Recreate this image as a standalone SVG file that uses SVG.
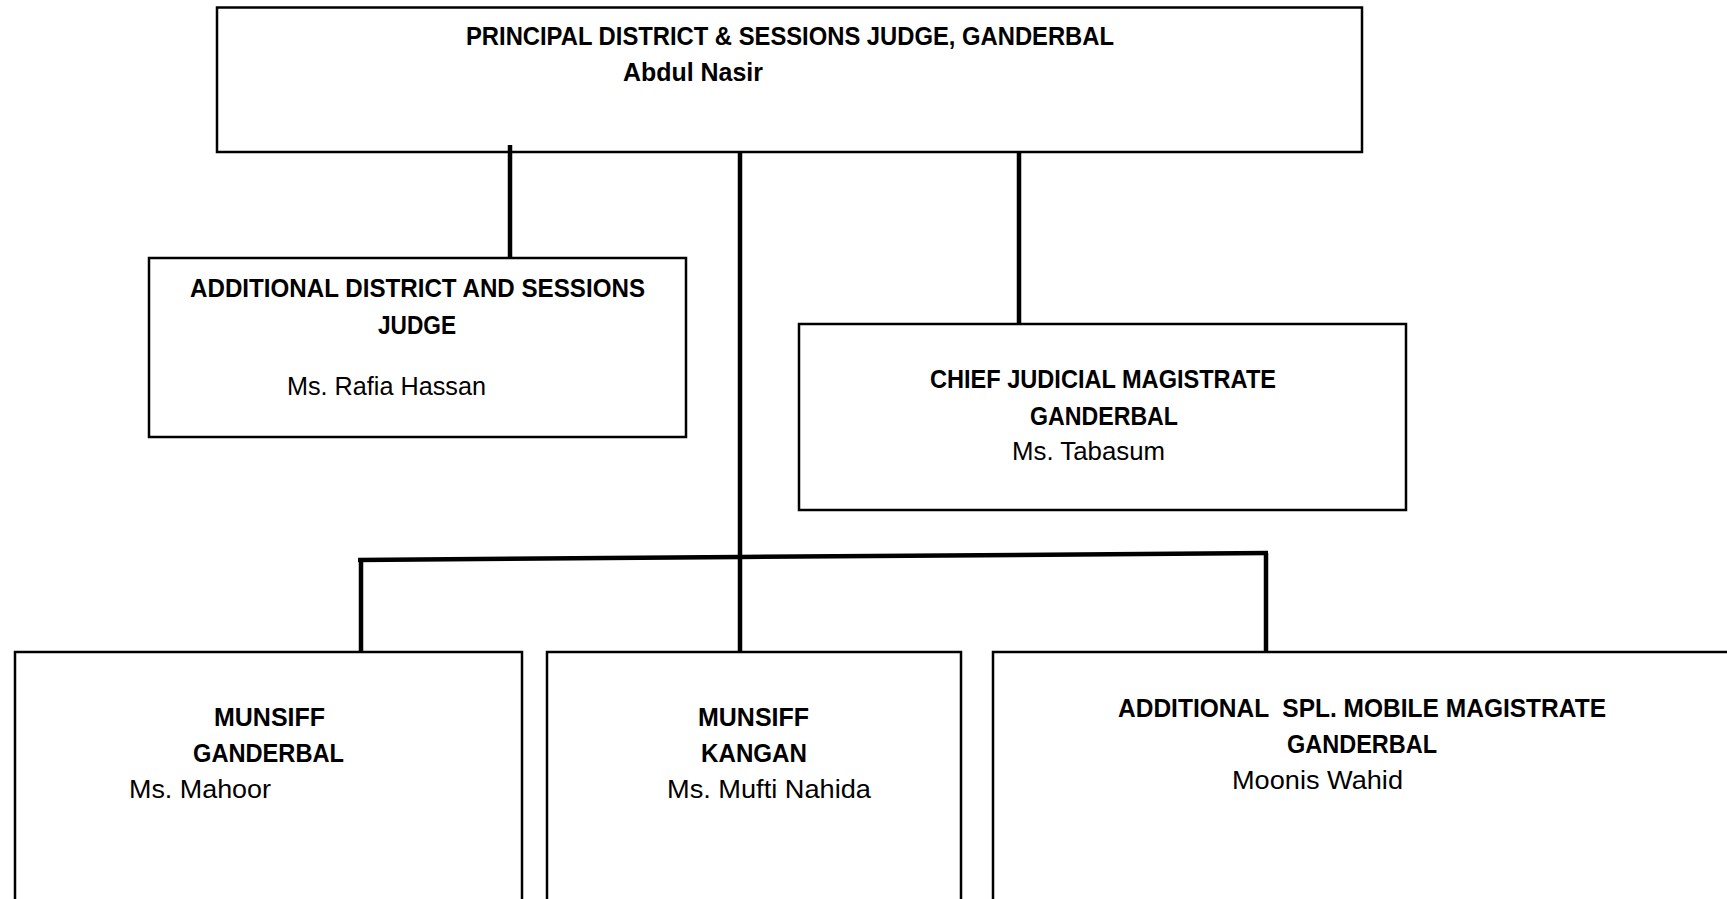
<svg xmlns="http://www.w3.org/2000/svg" width="1727" height="899" viewBox="0 0 1727 899">
<style>
.box{fill:#fff;stroke:#000;stroke-width:2.5}
.conn{fill:none;stroke:#000;stroke-width:4.5}
text{font-family:"Liberation Sans",Arial,sans-serif;font-size:26px;fill:#000;white-space:pre}
.b{font-weight:bold}
.r{font-weight:normal}
</style>
<rect width="1727" height="899" fill="#fff"/>
<g id="node-pdsj">
<rect class="box" x="217" y="7.5" width="1145" height="144.5"/>
<text class="b" x="466" y="45" textLength="648" lengthAdjust="spacingAndGlyphs">PRINCIPAL DISTRICT &amp; SESSIONS JUDGE, GANDERBAL</text>
<text class="b" x="623" y="81" textLength="140" lengthAdjust="spacingAndGlyphs">Abdul Nasir</text>
</g>
<g id="node-adsj">
<rect class="box" x="149" y="258" width="537" height="179"/>
<text class="b" x="190" y="297" textLength="455" lengthAdjust="spacingAndGlyphs">ADDITIONAL DISTRICT AND SESSIONS</text>
<text class="b" x="378" y="334" textLength="78" lengthAdjust="spacingAndGlyphs">JUDGE</text>
<text class="r" x="287" y="395" textLength="199" lengthAdjust="spacingAndGlyphs">Ms. Rafia Hassan</text>
</g>
<g id="node-cjm">
<rect class="box" x="799" y="324" width="607" height="186"/>
<text class="b" x="930" y="388" textLength="346" lengthAdjust="spacingAndGlyphs">CHIEF JUDICIAL MAGISTRATE</text>
<text class="b" x="1030" y="425" textLength="148" lengthAdjust="spacingAndGlyphs">GANDERBAL</text>
<text class="r" x="1012" y="460" textLength="153" lengthAdjust="spacingAndGlyphs">Ms. Tabasum</text>
</g>
<g id="node-munsiff-ganderbal">
<rect class="box" x="15" y="652" width="507" height="270"/>
<text class="b" x="214" y="726" textLength="111" lengthAdjust="spacingAndGlyphs">MUNSIFF</text>
<text class="b" x="193" y="762" textLength="151" lengthAdjust="spacingAndGlyphs">GANDERBAL</text>
<text class="r" x="129" y="798" textLength="142" lengthAdjust="spacingAndGlyphs">Ms. Mahoor</text>
</g>
<g id="node-munsiff-kangan">
<rect class="box" x="547" y="652" width="414" height="270"/>
<text class="b" x="698" y="726" textLength="111" lengthAdjust="spacingAndGlyphs">MUNSIFF</text>
<text class="b" x="701" y="762" textLength="106" lengthAdjust="spacingAndGlyphs">KANGAN</text>
<text class="r" x="667" y="798" textLength="204" lengthAdjust="spacingAndGlyphs">Ms. Mufti Nahida</text>
</g>
<g id="node-asmm">
<rect class="box" x="993" y="652" width="800" height="270"/>
<text class="b" x="1118" y="717" textLength="488" lengthAdjust="spacingAndGlyphs">ADDITIONAL  SPL. MOBILE MAGISTRATE</text>
<text class="b" x="1287" y="753" textLength="150" lengthAdjust="spacingAndGlyphs">GANDERBAL</text>
<text class="r" x="1232" y="789" textLength="171" lengthAdjust="spacingAndGlyphs">Moonis Wahid</text>
</g>
<g id="connectors">
<line class="conn" x1="510" y1="145" x2="510" y2="258"/>
<line class="conn" x1="740" y1="152" x2="740" y2="652"/>
<line class="conn" x1="1019" y1="152" x2="1019" y2="324"/>
<polyline class="conn" points="358,560 740,557 1268,553"/>
<line class="conn" x1="361" y1="558" x2="361" y2="652"/>
<line class="conn" x1="1266" y1="553" x2="1266" y2="652"/>
</g>
</svg>
